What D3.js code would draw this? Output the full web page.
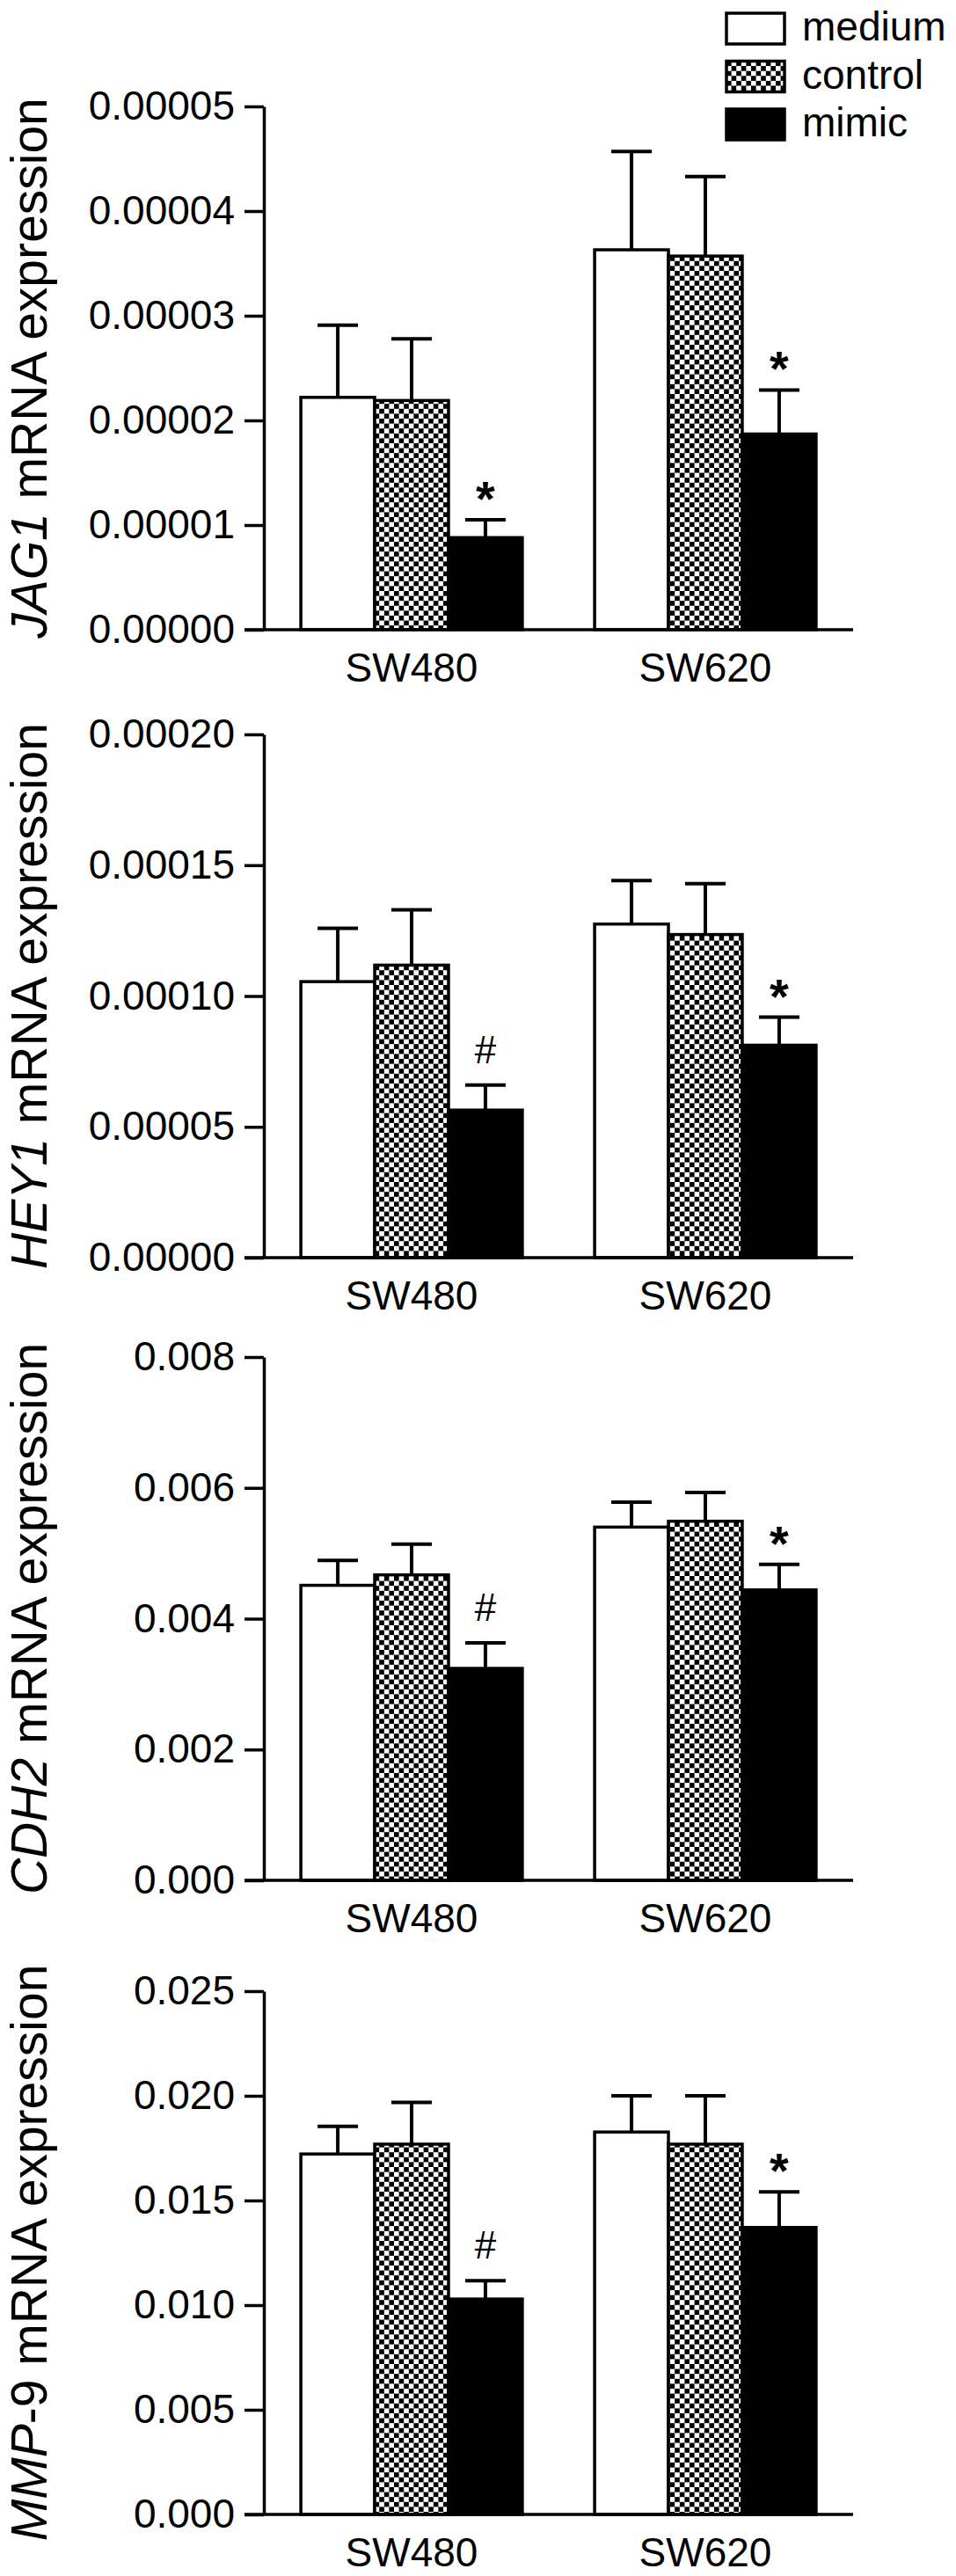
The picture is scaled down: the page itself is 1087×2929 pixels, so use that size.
<!DOCTYPE html>
<html>
<head>
<meta charset="utf-8">
<script src="https://cdn.jsdelivr.net/npm/d3@7"></script>
<style>
  html, body { margin: 0; padding: 0; background: #fff; }
  svg { display: block; font-family: "Liberation Sans", Arial, sans-serif; }
</style>
</head>
<body>
<svg width="1087" height="2929"></svg>
<script>
// cell lines and treatment groups
const categories = ['SW480', 'SW620']
const groups = ['medium', 'control', 'mimic']

// gene names, split into the italic part and the upright rest
const geneItalic = ['JAG1', 'HEY1', 'CDH2', 'MMP']
const geneUpright = ['', '', '', '-9']

// means per cell line, in order medium / control / mimic
const jag1Mean = [[0.0000222, 0.0000219, 0.0000088], [0.0000363, 0.0000357, 0.0000187]]
const jag1Sem  = [[0.0000069, 0.0000059, 0.0000017], [0.0000094, 0.0000076, 0.0000042]]
const hey1Mean = [[0.0001055, 0.0001118, 0.0000564], [0.0001275, 0.0001235, 0.0000812]]
const hey1Sem  = [[0.0000204, 0.0000211, 0.0000096], [0.0000166, 0.0000194, 0.0000107]]
const cdh2Mean = [[0.00451, 0.00467, 0.00324], [0.00540, 0.00549, 0.00444]]
const cdh2Sem  = [[0.00038, 0.00047, 0.00039], [0.00038, 0.00044, 0.00039]]
const mmp9Mean = [[0.01722, 0.01769, 0.01029], [0.01827, 0.01769, 0.01371]]
const mmp9Sem  = [[0.00132, 0.00199, 0.00088], [0.00173, 0.00231, 0.00170]]

// significance marks over the mimic bars
const marks = [['*', '*'], ['#', '*'], ['#', '*'], ['#', '*']]

// y axis ticks and label formats
const yTicks = [
  [0, 0.00001, 0.00002, 0.00003, 0.00004, 0.00005],
  [0, 0.00005, 0.0001, 0.00015, 0.0002],
  [0, 0.002, 0.004, 0.006, 0.008],
  [0, 0.005, 0.01, 0.015, 0.02, 0.025],
]
const yFormats = ['.5f', '.5f', '.3f', '.3f']

const means = [jag1Mean, hey1Mean, cdh2Mean, mmp9Mean]
const sems = [jag1Sem, hey1Sem, cdh2Sem, mmp9Sem]

// layout
const axisX = 300
const rightX = 970
const panelTops = [121, 835, 1543, 2264]
const panelH = 595
const fontSize = 46
const stroke = 3.5

const svg = d3.select('svg')

const defs = svg.append('defs')
const cellSize = 5.6
const pat = defs.append('pattern')
  .attr('id', 'checker')
  .attr('patternUnits', 'userSpaceOnUse')
  .attr('width', cellSize * 2)
  .attr('height', cellSize * 2)
pat.append('rect').attr('width', cellSize * 2).attr('height', cellSize * 2).attr('fill', '#fff')
pat.append('rect').attr('width', cellSize).attr('height', cellSize).attr('fill', '#000')
pat.append('rect').attr('x', cellSize).attr('y', cellSize).attr('width', cellSize).attr('height', cellSize).attr('fill', '#000')

const fills = { medium: '#fff', control: 'url(#checker)', mimic: '#000' }

const x0 = d3.scaleBand().domain(categories).range([axisX, rightX])
  .paddingInner(0.246).paddingOuter(0.126)
const x1 = d3.scaleBand().domain(groups).range([0, x0.bandwidth()])

means.forEach((meanRows, p) => {
  const top = panelTops[p]
  const ticks = yTicks[p]
  const y = d3.scaleLinear().domain([0, d3.max(ticks)]).range([top + panelH, top])
  const g = svg.append('g').attr('class', 'panel')

  const rows = categories.flatMap((c, ci) => groups.map((grp, gi) => ({
    cat: c, grp, mean: meanRows[ci][gi], sem: sems[p][ci][gi],
    mark: grp === 'mimic' ? marks[p][ci] : null,
  })))

  const bar = g.selectAll('g.bar').data(rows).join('g').classed('bar', true)

  // error bars (upper only)
  bar.append('line')
    .attr('x1', d => x0(d.cat) + x1(d.grp) + x1.bandwidth() / 2)
    .attr('x2', d => x0(d.cat) + x1(d.grp) + x1.bandwidth() / 2)
    .attr('y1', d => y(d.mean))
    .attr('y2', d => y(d.mean + d.sem))
    .attr('stroke', '#000').attr('stroke-width', 4)
  bar.append('line')
    .attr('x1', d => x0(d.cat) + x1(d.grp) + x1.bandwidth() / 2 - 23)
    .attr('x2', d => x0(d.cat) + x1(d.grp) + x1.bandwidth() / 2 + 23)
    .attr('y1', d => y(d.mean + d.sem))
    .attr('y2', d => y(d.mean + d.sem))
    .attr('stroke', '#000').attr('stroke-width', 4)

  bar.append('rect')
    .attr('x', d => x0(d.cat) + x1(d.grp))
    .attr('width', x1.bandwidth())
    .attr('y', d => y(d.mean))
    .attr('height', d => y(0) - y(d.mean))
    .attr('fill', d => fills[d.grp])
    .attr('stroke', '#000').attr('stroke-width', stroke)

  bar.filter(d => d.mark).append('text')
    .attr('x', d => x0(d.cat) + x1(d.grp) + x1.bandwidth() / 2)
    .attr('y', d => y(d.mean + d.sem) - (d.mark === '*' ? 5 : 25))
    .attr('text-anchor', 'middle')
    .attr('font-size', d => d.mark === '*' ? 56 : 44)
    .attr('font-weight', d => d.mark === '*' ? 'bold' : 'normal')
    .text(d => d.mark)

  // y axis
  const yAxis = g.append('g')
    .attr('transform', `translate(${axisX},0)`)
    .call(d3.axisLeft(y).tickValues(ticks).tickFormat(d3.format(yFormats[p]))
      .tickSize(22).tickSizeOuter(0).tickPadding(11))
  yAxis.select('.domain').attr('stroke-width', stroke)
  yAxis.selectAll('.tick line').attr('stroke-width', stroke)
  yAxis.selectAll('.tick text').attr('font-size', fontSize).attr('font-family', null).attr('fill', '#000')

  // x axis
  const xAxis = g.append('g')
    .attr('transform', `translate(0,${y(0)})`)
    .call(d3.axisBottom(x0).tickSize(0).tickPadding(26))
  xAxis.select('.domain').remove()
  xAxis.selectAll('.tick text').attr('font-size', fontSize).attr('font-family', null).attr('fill', '#000')
  g.append('line')
    .attr('x1', axisX - 22).attr('x2', rightX)
    .attr('y1', y(0)).attr('y2', y(0))
    .attr('stroke', '#000').attr('stroke-width', stroke)

  // y title
  const title = g.append('text')
    .attr('transform', `translate(53,${top + panelH / 2}) rotate(-90)`)
    .attr('text-anchor', 'middle')
    .attr('font-size', 57)
  title.append('tspan').attr('font-style', 'italic').text(geneItalic[p])
  title.append('tspan').text(geneUpright[p] + ' mRNA expression')
})

// legend
const legend = svg.append('g').attr('class', 'legend')
  .attr('transform', 'translate(826,15)')
const item = legend.selectAll('g').data(groups).join('g')
  .attr('transform', (d, i) => `translate(0,${i * 54.5})`)
item.append('rect')
  .attr('width', 66).attr('height', 35)
  .attr('fill', d => fills[d])
  .attr('stroke', '#000').attr('stroke-width', stroke)
item.append('text')
  .attr('x', 86).attr('y', 31)
  .attr('font-size', fontSize)
  .text(d => d)
</script>
</body>
</html>
